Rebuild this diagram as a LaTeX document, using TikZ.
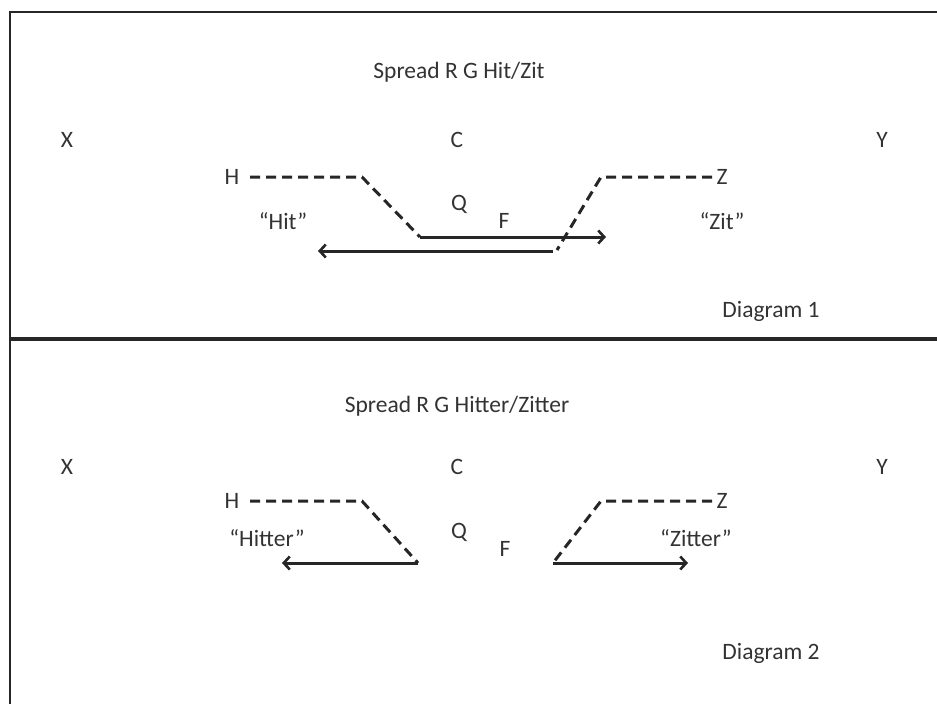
\documentclass[tikz,border=0pt]{standalone}
\usepackage{fontspec}
\setmainfont{Carlito}
\usetikzlibrary{arrows.meta}
\begin{document}
\begin{tikzpicture}[x=1pt,y=-1pt,
  lbl/.style={inner sep=0pt,text=black!80,font=\fontsize{23.5}{26}\selectfont},
  frameline/.style={line width=2.2pt,black!85},
  dashline/.style={line width=3pt,dash pattern=on 10pt off 6pt,black!85},
  arr/.style={line width=3pt,black!85,-{Straight Barb[length=6pt,width=13pt,line width=2.6pt]}}]
\useasboundingbox (0,0) rectangle (937,704);
% frame
\coordinate (tl) at (10,12); \coordinate (tr) at (937,12);
\coordinate (bl) at (10,704);
\coordinate (ml) at (10,339); \coordinate (mr) at (937,339);
\draw[frameline] (tr) -- (tl) -- (bl);
\draw[frameline,line width=3.2pt] (ml) -- (mr);
% Diagram 1
\node[lbl] (t1) at (459,72) {Spread R G Hit/Zit};
\node[lbl] (x1) at (67,140) {X};
\node[lbl] (c1) at (457,140) {C};
\node[lbl] (y1) at (882,140) {Y};
\node[lbl] (h1) at (232,177) {H};
\node[lbl] (z1) at (722,177) {Z};
\node[lbl] (q1) at (459,204) {Q};
\node[lbl] (f1) at (504,221) {F};
\node[lbl] (hit) at (283,221) {“Hit”};
\node[lbl] (zit) at (722,221) {“Zit”};
\node[lbl] (d1) at (771,311) {Diagram 1};
\coordinate (a1) at (250,177); \coordinate (a2) at (362,177); \coordinate (a3) at (420,237);
\coordinate (b1) at (712,177); \coordinate (b2) at (601,177); \coordinate (b3) at (557,250);
\coordinate (r1) at (606,237); \coordinate (l1) at (553,251); \coordinate (l2) at (318,251);
\draw[dashline] (a1) -- (a2) -- (a3);
\draw[dashline] (b1) -- (b2) -- (b3);
\draw[arr] (a3) -- (r1);
\draw[arr] (l1) -- (l2);
% Diagram 2
\node[lbl] (t2) at (457,406) {Spread R G Hitter/Zitter};
\node[lbl] (x2) at (67,467) {X};
\node[lbl] (c2) at (457,467) {C};
\node[lbl] (y2) at (882,467) {Y};
\node[lbl] (h2) at (232,501) {H};
\node[lbl] (z2) at (722,501) {Z};
\node[lbl] (q2) at (459,532) {Q};
\node[lbl] (f2) at (505,549) {F};
\node[lbl] (hitter) at (267,538) {“Hitter”};
\node[lbl] (zitter) at (696,538) {“Zitter”};
\node[lbl] (d2) at (771,653) {Diagram 2};
\coordinate (c1a) at (250,501); \coordinate (c1b) at (362,501); \coordinate (c1c) at (418,563);
\coordinate (e1a) at (712,501); \coordinate (e1b) at (601,501); \coordinate (e1c) at (553,563);
\coordinate (lh) at (282,563); \coordinate (rz) at (688,563);
\draw[dashline] (c1a) -- (c1b) -- (c1c);
\draw[dashline] (e1a) -- (e1b) -- (e1c);
\draw[arr] (c1c) -- (lh);
\draw[arr] (e1c) -- (rz);
\end{tikzpicture}
\end{document}
